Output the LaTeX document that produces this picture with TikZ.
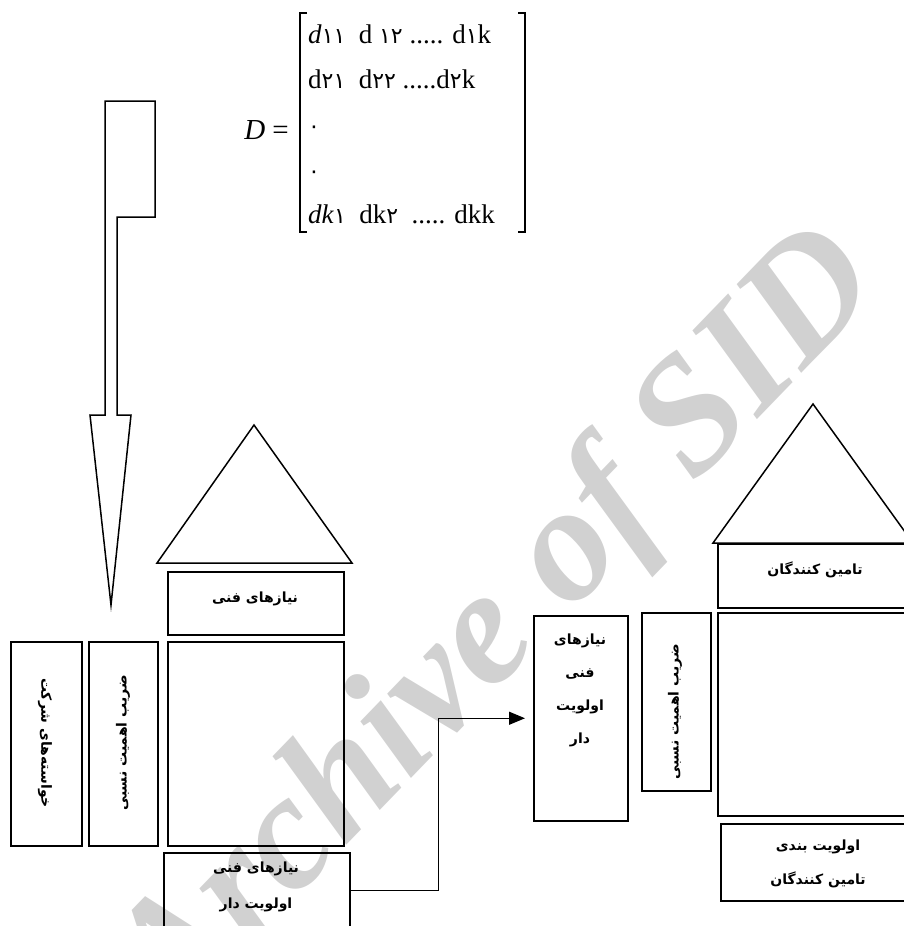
\documentclass[tikz,border=0pt]{standalone}
\usepackage{fontspec}
\setmainfont{Liberation Serif}
\newfontfamily\arabicfont[Script=Arabic]{DejaVu Sans}
\newfontfamily\digfont{DejaVu Sans}
\usetikzlibrary{arrows.meta}
\TeXXeTstate=1
\newcommand\dg[1]{{\digfont\fontsize{22}{22}\selectfont #1}}
\tikzset{
  shapeline/.style={draw, line width=1.5pt, line join=miter},
  box/.style={draw, line width=1.5pt, inner sep=0pt, anchor=north west},
  lbl/.style={font=\arabicfont\bfseries\fontsize{14}{#1}\selectfont, align=center, inner sep=0pt},
  lbl/.default=16,
  mrow/.style={anchor=base west, inner sep=0pt, font=\fontsize{27}{27}\selectfont},
  conn/.style={line width=1.3pt, -{Triangle[length=16pt,width=13pt]}},
  wmark/.style={text=black!18, font=\fontsize{165}{165}\selectfont\bfseries\itshape, inner sep=0pt}
}
\begin{document}
\begin{tikzpicture}[x=1pt,y=-1pt]
\useasboundingbox (0,0) rectangle (904,926);
% watermark
\node[wmark, rotate=46] (wm) at (500,628) {Archive of SID};
% matrix
\node[anchor=base east, inner sep=0pt, font=\fontsize{29}{29}\selectfont] (deq) at (289,139) {\textit{D} =};
\node[mrow] (r1) at (308,43) {\textit{d}\dg{۱۱}\ \ d \dg{۱۲} ..... d\dg{۱}k};
\node[mrow] (r2) at (308,88) {d\dg{۲۱}\ \ d\dg{۲۲} .....d\dg{۲}k};
\node[mrow] (r3) at (308,133) {\dg{۰}};
\node[mrow] (r4) at (308,178) {\dg{۰}};
\node[mrow] (r5) at (308,223) {\textit{dk}\dg{۱}\ \ dk\dg{۲}\ \ ..... dkk};
\draw[line width=1.2pt] (307,13) -- (300,13) -- (300,232) -- (307,232);
\draw[line width=1.2pt] (518,13) -- (525,13) -- (525,232) -- (518,232);
% block arrow
\draw[shapeline] (105,101) -- (155,101) -- (155,217) -- (117,217) -- (117,415) -- (131,415) -- (111,605) -- (90,415) -- (105,415) -- cycle;
% left house
\draw[shapeline] (157,563) -- (254,425) -- (352,563) -- cycle;
\node[box, minimum width=176pt, minimum height=63pt] (tf) at (167,571) {};
\node[lbl] (tft) at (255,599) {\beginR نیازهای فنی\endR};
\node[box, minimum width=176pt, minimum height=204pt] (ls) at (167,641) {};
\node[box, minimum width=186pt, minimum height=76pt] (bb) at (163,852) {};
\node[lbl=36] (bbt) at (256,887) {\beginR نیازهای فنی\endR\\ \beginR اولویت دار\endR};
\node[box, minimum width=71pt, minimum height=204pt] (c1) at (10,641) {};
\node[lbl, rotate=-90] (c1t) at (45,743) {\beginR خواسته‌های شرکت\endR};
\node[box, minimum width=69pt, minimum height=204pt] (c2) at (88,641) {};
\node[lbl, rotate=90] (c2t) at (123,743) {\beginR ضریب اهمیت نسبی\endR};
% middle
\node[box, minimum width=94pt, minimum height=205pt] (mid) at (533,615) {};
\node[lbl=33] (midt) at (580,690) {\beginR نیازهای\endR\\ \beginR فنی\endR\\ \beginR اولویت\endR\\ \beginR دار\endR};
\node[box, minimum width=69pt, minimum height=178pt] (mw) at (641,612) {};
\node[lbl, rotate=90] (mwt) at (675,712) {\beginR ضریب اهمیت نسبی\endR};
% right house
\draw[shapeline] (713,543) -- (813,404) -- (913,543) -- cycle;
\node[box, minimum width=188pt, minimum height=64pt] (rt) at (717,543) {};
\node[lbl] (rtt) at (815,570) {\beginR تامین کنندگان\endR};
\node[box, minimum width=188pt, minimum height=203pt] (rs) at (717,612) {};
\node[box, minimum width=185pt, minimum height=77pt] (rb) at (720,823) {};
\node[lbl=34] (rbt) at (818,864) {\beginR اولویت بندی\endR\\ \beginR تامین کنندگان\endR};
% connector
\draw[conn] (bb.east) -- ++(88,0) |- ([xshift=-8pt]mid.west);
\end{tikzpicture}
\end{document}
